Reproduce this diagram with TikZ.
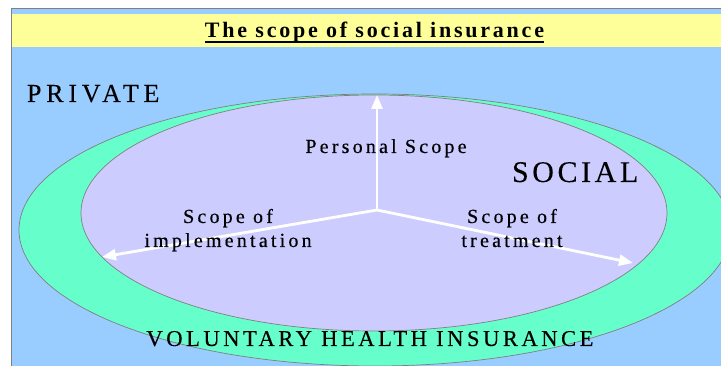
\documentclass[tikz,border=0pt]{standalone}
\usepackage{fontspec}
\setmainfont{Liberation Serif}
\newfontfamily\fbody[LetterSpace=16,FakeBold=0.45]{Liberation Serif}
\newfontfamily\fpriv[LetterSpace=18.5,FakeBold=0.1]{Liberation Serif}
\newfontfamily\fsoc[LetterSpace=12,FakeBold=0.1]{Liberation Serif}
\newfontfamily\fvol[LetterSpace=15.5,FakeBold=0.15]{Liberation Serif}
\newfontfamily\ftitle[LetterSpace=12.6]{Liberation Serif Bold}
\usetikzlibrary{arrows.meta}
\definecolor{bgblue}{HTML}{99CCFF}
\definecolor{ttlyellow}{HTML}{FFFF99}
\definecolor{ringgreen}{HTML}{66FFCC}
\definecolor{lav}{HTML}{CCCCFF}
\definecolor{edgegray}{HTML}{808080}
\tikzset{
  ring/.style={draw=edgegray, line width=0.7pt},
  scopearrow/.style={draw=white, line width=2.8pt, -{Triangle[length=14pt,width=11pt]}},
  lbl/.style={inner sep=0pt, outer sep=0pt, text=black, anchor=base},
}
\begin{document}
\begin{tikzpicture}[x=1pt,y=-1pt]
\useasboundingbox (0,0) rectangle (721,366);
\fill[white] (0,0) rectangle (721,366);
\begin{scope}
\clip (0,0) rectangle (721,366);
\fill[bgblue] (11.5,8) rectangle (730,375);
\draw[edgegray, line width=0.8pt] (11.5,375) -- (11.5,8) -- (730,8);
\fill[ttlyellow] (12,14) rectangle (730,47);
\filldraw[ring, fill=ringgreen] (375,230) ellipse [x radius=356, y radius=136];
\filldraw[ring, fill=lav] (374,213) ellipse [x radius=293, y radius=118];
\end{scope}
\node[lbl] (title) at (374.5,38) {\fontsize{22}{26}\ftitle The scope of social insurance};
\draw[black, line width=2pt] ([yshift=-4pt]title.base west) -- ([yshift=-4pt]title.base east);
\node[lbl, anchor=base west] (private) at (27,102) {\fontsize{26}{30}\fpriv PRIVATE};
\node[lbl, anchor=base west] (social) at (512,182) {\fontsize{30}{34}\fsoc SOCIAL};
\coordinate (origin) at (377,210);
\coordinate (upend) at (377,95);
\coordinate (leftend) at (102,257);
\coordinate (rightend) at (633,263);
\draw[scopearrow] (origin) -- (upend);
\draw[scopearrow] (origin) -- (leftend);
\draw[scopearrow] (origin) -- (rightend);
\node[lbl] (personal) at (386,153) {\fontsize{20}{24}\fbody Personal Scope};
\node[lbl] (implA) at (228,223) {\fontsize{20}{24}\fbody Scope of};
\node[lbl] (implB) at (228,247) {\fontsize{20}{24}\fbody implementation};
\node[lbl] (treatA) at (512,223) {\fontsize{20}{24}\fbody Scope of};
\node[lbl] (treatB) at (512,247) {\fontsize{20}{24}\fbody treatment};
\node[lbl] (voluntary) at (370,346) {\fontsize{22.6}{26}\fvol VOLUNTARY HEALTH INSURANCE};
\end{tikzpicture}
\end{document}
